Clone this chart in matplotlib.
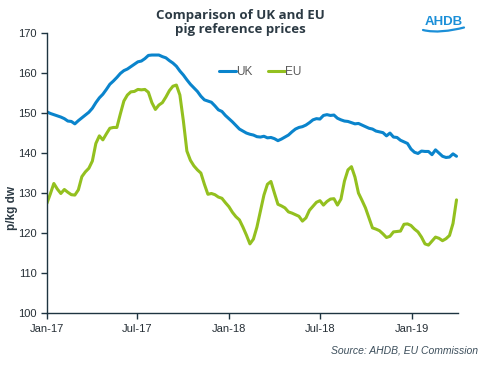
import numpy as np
import pandas as pd
import matplotlib
matplotlib.use("Agg")
import matplotlib.pyplot as plt
import matplotlib.dates as mdates
from matplotlib.path import Path
from matplotlib.patches import PathPatch

# weekly reference prices, p/kg dw, from first week of Jan 2017
weeks = pd.date_range("2017-01-01", periods=118, freq="7D")

uk_price = [
    150.3, 149.9, 149.6, 149.3, 149.0, 148.6, 148.0, 147.9, 147.3, 148.1,
    148.8, 149.5, 150.2, 151.2, 152.6, 153.8, 154.7, 155.9, 157.2, 158.0,
    158.9, 159.9, 160.6, 161.0, 161.6, 162.2, 162.8, 163.0, 163.6, 164.4,
    164.5, 164.5, 164.5, 164.1, 163.8, 163.1, 162.5, 161.7, 160.5, 159.5,
    158.3, 157.2, 156.3, 155.4, 154.2, 153.3, 153.0, 152.7, 151.8, 150.8,
    150.4, 149.4, 148.6, 147.8, 146.9, 146.0, 145.5, 145.0, 144.7, 144.5,
    144.1, 144.0, 144.2, 143.8, 143.9, 143.6, 143.1, 143.5, 144.0, 144.5,
    145.3, 146.0, 146.4, 146.6, 147.0, 147.6, 148.3, 148.6, 148.5, 149.4,
    149.6, 149.4, 149.5, 148.7, 148.3, 148.0, 147.9, 147.6, 147.3, 147.4,
    147.0, 146.6, 146.2, 146.0, 145.5, 145.3, 145.1, 144.3, 145.0, 144.0,
    143.9, 143.2, 142.8, 142.4, 141.0, 140.2, 139.9, 140.5, 140.4, 140.4,
    139.6, 140.8, 140.0, 139.2, 138.9, 139.0, 139.8, 139.2,
]

eu_price = [
    127.4, 129.8, 132.4, 131.0, 129.9, 130.9, 130.2, 129.6, 129.5, 130.8,
    134.1, 135.3, 136.2, 138.0, 142.4, 144.3, 143.3, 144.8, 146.2, 146.4,
    146.4, 149.8, 153.0, 154.5, 155.3, 155.4, 155.9, 155.8, 155.9, 155.2,
    152.6, 150.9, 152.0, 152.6, 154.0, 155.6, 156.7, 157.0, 154.5, 148.0,
    140.5, 138.2, 136.8, 135.8, 135.0, 132.2, 129.7, 129.9, 129.6, 129.0,
    128.7, 127.6, 126.6, 125.2, 124.1, 123.3, 121.5, 119.5, 117.3, 118.5,
    121.5, 125.5, 129.5, 132.2, 132.9, 130.0, 127.2, 126.8, 126.3, 125.3,
    125.0, 124.6, 124.2, 123.0, 123.8, 125.7, 126.7, 127.7, 128.1, 127.0,
    127.9, 128.5, 128.6, 127.0, 128.5, 133.0, 135.8, 136.6, 134.0, 130.0,
    128.2, 126.3, 123.8, 121.3, 121.0, 120.6, 119.8, 118.9, 119.2, 120.3,
    120.4, 120.5, 122.2, 122.3, 121.9, 121.0, 120.3, 119.0, 117.3, 117.0,
    118.0, 119.0, 118.7, 118.1, 118.6, 119.4, 122.4, 128.3,
]

axis_col = "#1e3441"
W, H = 493, 371
fig = plt.figure(figsize=(W / 100, H / 100), dpi=100)
ax = fig.add_axes([0.095, 0.156, 0.833, 0.755])

ax.plot(weeks, uk_price, color="#0a84cc", lw=2.2, label="UK", solid_capstyle="round")
ax.plot(weeks, eu_price, color="#93c01f", lw=2.2, label="EU", solid_capstyle="round")

ax.set_ylim(100, 170)
ax.set_yticks(range(100, 171, 10))
ax.set_xlim(pd.Timestamp("2017-01-01"), pd.Timestamp("2019-04-02"))
ax.set_xticks(pd.to_datetime(["2017-01-01", "2017-07-01", "2018-01-01", "2018-07-01", "2019-01-01"]))
ax.xaxis.set_major_formatter(mdates.DateFormatter("%b-%y"))

for s in ["top", "right"]:
    ax.spines[s].set_visible(False)
for s in ["left", "bottom"]:
    ax.spines[s].set_color(axis_col)
    ax.spines[s].set_linewidth(1.0)
ax.tick_params(colors=axis_col, labelcolor="#262f36", labelsize=8, length=4, width=1)
for lbl in ax.get_xticklabels() + ax.get_yticklabels():
    lbl.set_family("Liberation Sans")

leg = ax.legend(loc="center", bbox_to_anchor=(0.52, 0.86), ncol=2, frameon=False,
                handlelength=1.4, handletextpad=0.05, columnspacing=1.3,
                prop={"family": "Liberation Sans", "size": 8.5})
for t in leg.get_texts():
    t.set_color("#595959")

fig.text(0.487, 0.975, "Comparison of UK and EU\npig reference prices", ha="center", va="top",
         fontsize=9.5, fontweight="bold", color="#2c3a44", family="Open Sans", linespacing=1.05)

fig.text(0.025, 0.44, "p/kg dw", rotation=90, ha="center", va="center", fontsize=8.5,
         fontweight="bold", color="#2c3a44", family="Liberation Sans")

fig.text(0.97, 0.055, "Source: AHDB, EU Commission", ha="right", va="center", fontsize=7.5,
         style="italic", color="#3d4f5c", family="Liberation Sans")

# AHDB logo: text plus a small wave underneath
fig.text(444 / W, 1 - 22 / H, "AHDB", ha="center", va="center", fontsize=9.5, fontweight="bold",
         color="#1b8fd8", family="Liberation Sans")
wave_px = [(423, 30), (435, 33), (450, 31), (464, 27.5)]
wave = Path([(x / W, 1 - y / H) for x, y in wave_px],
            [Path.MOVETO, Path.CURVE4, Path.CURVE4, Path.CURVE4])
fig.add_artist(PathPatch(wave, transform=fig.transFigure, fill=False,
                         edgecolor="#1b8fd8", lw=1.6, capstyle="round"))

fig.savefig("out.png", dpi=100)
